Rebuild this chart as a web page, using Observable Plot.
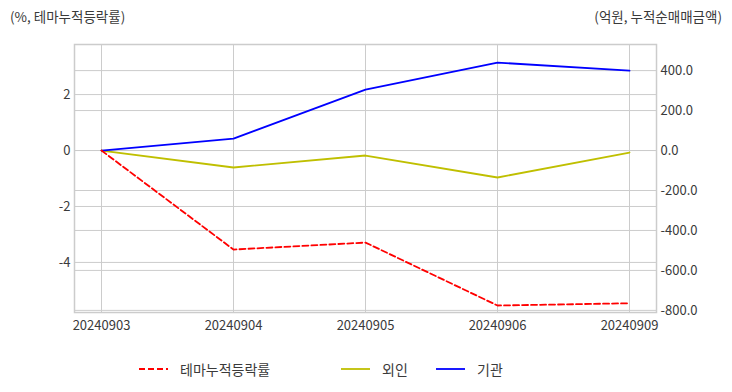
<!DOCTYPE html>
<html>
<head>
<meta charset="utf-8">
<script src="https://cdn.jsdelivr.net/npm/d3@7"></script>
<script src="https://cdn.jsdelivr.net/npm/@observablehq/plot@0.6"></script>
<style>
  body { margin: 0; background: #fff; font-family: "Noto Sans CJK KR", "Noto Sans", sans-serif; }
  #wrap { position: relative; width: 732px; height: 392px; }
  .ttl { position: absolute; top: 6px; font-size: 13.5px; color: #3a3a3a; white-space: nowrap; }
  #legend { position: absolute; top: 359px; left: 0; width: 732px; height: 20px; font-size: 14px; color: #3a3a3a; }
  .li { position: absolute; top: 0; display: flex; align-items: center; height: 20px; }
  .li svg { margin-right: 12px; }
</style>
</head>
<body>
<div id="wrap"></div>
<script>
const dates = ["20240903", "20240904", "20240905", "20240906", "20240909"];
const themeRate = [0, -3.54, -3.29, -5.54, -5.46];   // %, left axis
const foreignNet = [0, -85, -25, -135, -10];         // 억원, right axis
const instNet = [0, 60, 305, 440, 400];              // 억원, right axis
const leftTicks = [-4, -2, 0, 2];
const rightTicks = [-800, -600, -400, -200, 0, 200, 400];
const seriesNames = ["테마누적등락률", "외인", "기관"];
const seriesColors = ["#ff0000", "#bfbf00", "#0000ff"];

const ratio = 140; // right-axis units per left-axis unit (twin axes share zero)
const rows = (vals, scale) => dates.map((d, i) => ({date: d, v: vals[i] / scale}));
const themeRows = rows(themeRate, 1);
const foreignRows = rows(foreignNet, ratio);
const instRows = rows(instNet, ratio);
const fmtLeft = d => (d < 0 ? "-" + Math.abs(d) : String(d));

const chart = Plot.plot({
  width: 732,
  height: 340,
  marginTop: 44,
  marginBottom: 28,
  marginLeft: 74,
  marginRight: 76,
  style: {fontFamily: '"Noto Sans CJK KR", "Noto Sans", sans-serif', fontSize: "13px", color: "#3a3a3a", background: "#fff"},
  x: {type: "point", domain: dates, padding: 0.2045, axis: null},
  y: {domain: [-5.79, 3.79], axis: null},
  marks: [
    Plot.gridX(dates, {stroke: "#cccccc", strokeOpacity: 1, strokeWidth: 1}),
    Plot.gridY(leftTicks, {stroke: "#cccccc", strokeOpacity: 1, strokeWidth: 1}),
    Plot.gridY(rightTicks.map(v => v / ratio), {stroke: "#cccccc", strokeOpacity: 1, strokeWidth: 1}),
    Plot.frame({stroke: "#cccccc", strokeWidth: 1.5}),
    Plot.axisY(leftTicks, {anchor: "left", tickSize: 0, tickPadding: 4, tickFormat: fmtLeft, fill: "#3a3a3a", label: null}),
    Plot.axisY(rightTicks.map(v => v / ratio), {anchor: "right", tickSize: 0, tickPadding: 4, tickFormat: d => (Math.round(d * ratio)).toFixed(1), fill: "#3a3a3a", label: null}),
    Plot.axisX(dates, {tickSize: 0, tickPadding: 8, fill: "#3a3a3a", label: null}),
    Plot.line(foreignRows, {x: "date", y: "v", stroke: seriesColors[1], strokeWidth: 1.8}),
    Plot.line(instRows, {x: "date", y: "v", stroke: seriesColors[2], strokeWidth: 1.8}),
    Plot.line(themeRows, {x: "date", y: "v", stroke: seriesColors[0], strokeWidth: 1.8, strokeDasharray: "6,3"})
  ]
});

const wrap = document.getElementById("wrap");
wrap.appendChild(chart);

const t1 = document.createElement("div");
t1.className = "ttl"; t1.style.left = "10px"; t1.textContent = "(%, 테마누적등락률)";
wrap.appendChild(t1);
const t2 = document.createElement("div");
t2.className = "ttl"; t2.style.right = "10px"; t2.textContent = "(억원, 누적순매매금액)";
wrap.appendChild(t2);

const legend = document.createElement("div");
legend.id = "legend";
const legendLeft = [139, 341, 436];
seriesNames.forEach((name, i) => {
  const item = document.createElement("div");
  item.className = "li";
  item.style.left = legendLeft[i] + "px";
  const dash = i === 0 ? 'stroke-dasharray="6,3"' : "";
  item.innerHTML = `<svg width="29" height="4"><line x1="0" y1="2" x2="29" y2="2" stroke="${seriesColors[i]}" stroke-width="1.8" ${dash}/></svg><span>${name}</span>`;
  legend.appendChild(item);
});
wrap.appendChild(legend);
</script>
</body>
</html>
